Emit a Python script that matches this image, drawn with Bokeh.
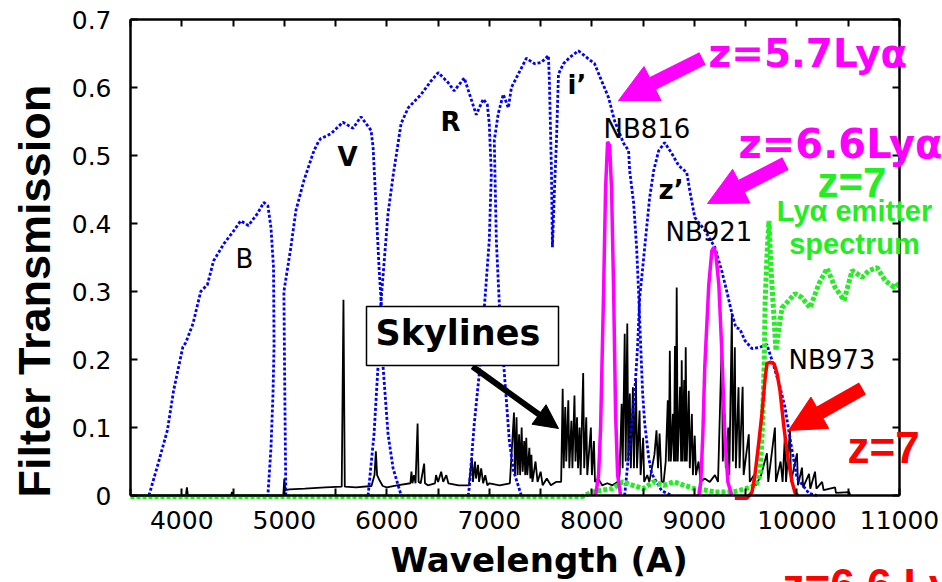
import math
from bokeh.plotting import figure
from bokeh.models import Range1d, FixedTicker, LinearAxis, Label, Arrow, NormalHead, BoxAnnotation
from bokeh.embed import file_html
from bokeh.resources import INLINE

# ---------------- data ----------------
b_wl = [3680, 3770, 3860, 3920, 4010, 4040, 4110, 4185, 4250, 4310, 4410, 4510, 4575, 4650, 4740, 4800, 4840, 4870, 4895, 4900, 4890, 4870, 4840]
b_t = [0, 0.047, 0.096, 0.154, 0.218, 0.225, 0.253, 0.30, 0.31, 0.345, 0.37, 0.39, 0.404, 0.397, 0.415, 0.431, 0.426, 0.394, 0.335, 0.22, 0.15, 0.07, 0]

v_wl = [5015, 5005, 4996, 5064, 5113, 5191, 5289, 5338, 5357, 5455, 5572, 5670, 5748, 5846, 5866, 5895, 5924, 5944, 5963, 6012, 6061, 6140]
v_t = [0, 0.15, 0.30, 0.365, 0.419, 0.463, 0.507, 0.522, 0.525, 0.532, 0.549, 0.54, 0.557, 0.537, 0.512, 0.424, 0.335, 0.287, 0.19, 0.09, 0.04, 0]

r_wl = [5817, 5875, 5914, 5944, 6012, 6061, 6139, 6208, 6335, 6433, 6501, 6599, 6657, 6755, 6872, 6941, 6980, 6999, 7019, 6999, 6951, 6902, 6853, 6804, 6794]
r_t = [0, 0.09, 0.19, 0.287, 0.415, 0.47, 0.547, 0.57, 0.59, 0.61, 0.622, 0.607, 0.595, 0.614, 0.56, 0.583, 0.575, 0.547, 0.473, 0.375, 0.277, 0.18, 0.106, 0.012, 0]

i_wl = [7312, 7234, 7195, 7146, 7097, 7068, 7048, 7087, 7136, 7185, 7215, 7283, 7361, 7439, 7508, 7576, 7586, 7606, 7615, 7635, 7654, 7674, 7723, 7782, 7869, 7967, 8026, 8094, 8163, 8221, 8309, 8358, 8368, 8407, 8436, 8456, 8476, 8495, 8515, 8554, 8583, 8681, 8779]
i_t = [0, 0.037, 0.08, 0.18, 0.282, 0.375, 0.522, 0.562, 0.59, 0.57, 0.6, 0.62, 0.643, 0.635, 0.637, 0.647, 0.606, 0.473, 0.365, 0.45, 0.52, 0.62, 0.635, 0.644, 0.654, 0.642, 0.635, 0.61, 0.585, 0.551, 0.518, 0.507, 0.478, 0.43, 0.365, 0.297, 0.22, 0.15, 0.106, 0.056, 0.032, 0.007, 0]

z_wl = [8319, 8339, 8368, 8417, 8446, 8466, 8515, 8563, 8603, 8651, 8710, 8779, 8847, 8925, 8954, 9003, 9101, 9199, 9267, 9316, 9365, 9404, 9443, 9492, 9561, 9639, 9707, 9756, 9825, 9883, 9952, 10000, 10118, 10196]
z_t = [0, 0.03, 0.076, 0.15, 0.22, 0.29, 0.365, 0.438, 0.478, 0.507, 0.519, 0.503, 0.485, 0.475, 0.449, 0.409, 0.39, 0.365, 0.33, 0.3, 0.268, 0.247, 0.245, 0.228, 0.216, 0.218, 0.222, 0.199, 0.165, 0.13, 0.066, 0.026, 0.003, 0]

nb816_wl = [8036, 8065, 8085, 8114, 8133, 8153, 8173, 8192, 8212, 8231, 8251, 8280]
nb816_t = [0, 0.03, 0.1, 0.3, 0.45, 0.52, 0.515, 0.45, 0.3, 0.12, 0.03, 0]

nb921_wl = [9043, 9062, 9082, 9101, 9140, 9170, 9189, 9209, 9238, 9267, 9296, 9326, 9365]
nb921_t = [0, 0.02, 0.09, 0.19, 0.31, 0.36, 0.365, 0.355, 0.31, 0.213, 0.09, 0.02, 0]

nb973_wl = [9394, 9512, 9561, 9590, 9629, 9658, 9688, 9707, 9736, 9776, 9805, 9834, 9873, 9912, 9952, 9981, 10010]
nb973_t = [-0.004, -0.004, 0.005, 0.03, 0.08, 0.12, 0.17, 0.194, 0.196, 0.194, 0.18, 0.155, 0.1, 0.055, 0.02, 0.004, 0]

lae_wl = [3500, 7900, 8000, 8100, 8200, 8300, 8400, 8500, 8600, 8700, 8800, 8900, 9000, 9100, 9200, 9300, 9400, 9500, 9600, 9640, 9660, 9680, 9690, 9710, 9727, 9746, 9776, 9795, 9825, 9854, 9922, 9981, 10049, 10128, 10216, 10294, 10372, 10460, 10538, 10636, 10704, 10782, 10861, 10949, 11000]
lae_t = [-0.002, -0.002, 0.005, 0.008, 0.01, 0.02, 0.015, 0.01, 0.02, 0.015, 0.02, 0.015, 0.01, 0.008, 0.005, 0.005, 0.006, 0.01, 0.015, 0.03, 0.09, 0.19, 0.287, 0.36, 0.404, 0.335, 0.262, 0.213, 0.247, 0.276, 0.287, 0.297, 0.291, 0.276, 0.312, 0.334, 0.306, 0.287, 0.331, 0.321, 0.331, 0.335, 0.316, 0.306, 0.312]

sky_wl = [3500, 4040, 4050, 4060, 4480, 4490, 4500, 4990, 5000, 5010, 5050, 5200, 5400, 5560, 5577, 5590, 5700, 5850, 5880, 5893, 5905, 5930, 5960, 6000, 6100,
          6230, 6240, 6250, 6265, 6280, 6300, 6310, 6330, 6364, 6372, 6400, 6470, 6480, 6500, 6530, 6550, 6580, 6600, 6700, 6800,
          6830, 6840, 6860, 6870, 6890, 6900, 6920, 6940, 6960, 6980, 7000, 7100, 7200,
          7240, 7250, 7265, 7275, 7290, 7300, 7315, 7325, 7340, 7350, 7360, 7370, 7390, 7400, 7410, 7420, 7450, 7470, 7500, 7520, 7560, 7600, 7650, 7700,
          7715, 7725, 7740, 7750, 7770, 7780, 7800, 7810, 7830, 7840, 7855, 7865, 7880, 7890, 7915, 7925, 7945, 7955, 7990, 8000, 8020, 8030, 8060,
          8100, 8150, 8200, 8250, 8270, 8290, 8300, 8320, 8330, 8345, 8355, 8370, 8380, 8400, 8410, 8430, 8440, 8465, 8475, 8500, 8510, 8540, 8560,
          8610, 8630, 8645, 8660, 8680, 8700, 8720, 8740, 8750, 8760, 8770, 8790, 8800, 8810, 8818, 8827, 8837, 8860, 8870, 8876, 8885, 8900, 8907, 8915, 8925,
          8945, 8955, 8975, 8985, 9003, 9015, 9040, 9060, 9100, 9150, 9200, 9230,
          9267, 9277, 9296, 9306, 9330, 9340, 9365, 9375, 9394, 9404, 9430, 9440, 9470, 9480, 9530, 9540, 9580, 9600, 9650,
          9707, 9720, 9785, 9795, 9840, 9860, 9883, 9893, 9932, 9942, 10000, 10010, 10049, 10060, 10118, 10130, 10176, 10190, 10245, 10260, 10372, 10380, 10509, 10520]
sky_t = [0, 0, 0.012, 0, 0, 0.005, 0, 0, 0.025, 0.008, 0.009, 0.010, 0.012, 0.013, 0.288, 0.013, 0.012, 0.014, 0.03, 0.065, 0.03, 0.022, 0.014, 0.012, 0.015,
         0.018, 0.035, 0.018, 0.03, 0.018, 0.106, 0.02, 0.018, 0.047, 0.018, 0.015, 0.018, 0.03, 0.02, 0.035, 0.02, 0.03, 0.018, 0.015, 0.015,
         0.056, 0.02, 0.05, 0.025, 0.045, 0.02, 0.04, 0.018, 0.03, 0.015, 0.018, 0.015, 0.018,
         0.122, 0.03, 0.115, 0.03, 0.09, 0.03, 0.1, 0.035, 0.08, 0.03, 0.085, 0.03, 0.07, 0.025, 0.06, 0.02, 0.05, 0.02, 0.035, 0.015, 0.025, 0.015, 0.02, 0.02,
         0.157, 0.04, 0.13, 0.05, 0.14, 0.04, 0.11, 0.04, 0.147, 0.05, 0.115, 0.04, 0.1, 0.03, 0.18, 0.04, 0.115, 0.03, 0.1, 0.03, 0.08, 0.02, 0.025,
         0.015, 0.018, 0.015, 0.02, 0.03, 0.135, 0.04, 0.238, 0.05, 0.253, 0.05, 0.15, 0.04, 0.159, 0.04, 0.169, 0.04, 0.125, 0.03, 0.085, 0.02, 0.03, 0.02,
         0.06, 0.096, 0.04, 0.091, 0.02, 0.02, 0.05, 0.14, 0.05, 0.213, 0.05, 0.12, 0.05, 0.22, 0.05, 0.306, 0.05, 0.16, 0.05, 0.199, 0.05, 0.17, 0.05, 0.218, 0.05,
         0.154, 0.04, 0.12, 0.03, 0.088, 0.03, 0.05, 0.02, 0.025, 0.02, 0.03, 0.02,
         0.228, 0.05, 0.12, 0.04, 0.1, 0.03, 0.268, 0.05, 0.218, 0.04, 0.159, 0.04, 0.16, 0.03, 0.09, 0.02, 0.03, 0.015, 0.03,
         0.062, 0.02, 0.1, 0.02, 0.05, 0.02, 0.09, 0.02, 0.096, 0.02, 0.062, 0.015, 0.041, 0.012, 0.032, 0.01, 0.035, 0.01, 0.02, 0.008, 0.012, 0.004, 0.005, 0]

x_ticks = [4000, 5000, 6000, 7000, 8000, 9000, 10000, 11000]
x_minor = [3500, 4500, 5500, 6500, 7500, 8500, 9500, 10500]
y_ticks = [0, 0.1, 0.2, 0.3, 0.4, 0.5, 0.6, 0.7]

# ---------------- layout ----------------
# The frame covers the whole canvas; the plot box (3500-11000 x 0-0.7) sits at
# pixels 130..899 x 19..495, and the axes are drawn at fixed data locations.
W, H = 942, 582
PL, PR, PT, PB = 130, 899, 19, 495
X0, X1, Y0, Y1 = 3500, 11000, 0.0, 0.7
KX = (X1 - X0) / (PR - PL)
KY = (Y1 - Y0) / (PB - PT)


def dx(px):
    return X0 + (px - PL) * KX


def dy(py):
    return Y0 + (PB - py) * KY


p = figure(width=W, height=H, x_range=Range1d(dx(0), dx(W)), y_range=Range1d(dy(H), dy(0)),
           output_backend="svg", toolbar_location=None,
           min_border=0, min_border_left=0, min_border_right=0, min_border_top=0, min_border_bottom=0)
p.background_fill_color = "white"
p.border_fill_color = "white"
p.grid.visible = False
p.outline_line_color = None


def style_axis(ax, labels=True, standoff=16):
    ax.axis_line_width = 2.5
    ax.major_tick_in = 7
    ax.major_tick_out = 0
    ax.minor_tick_in = 7
    ax.minor_tick_out = 0
    ax.major_tick_line_width = 2
    ax.minor_tick_line_width = 2
    if labels:
        ax.major_label_text_font = "DejaVu Sans"
        ax.major_label_text_font_size = "25px"
        ax.major_label_text_color = "black"
        ax.major_label_standoff = standoff
    else:
        ax.major_label_text_alpha = 0
        ax.major_label_text_color = None
        ax.major_label_standoff = 0


p.xaxis.ticker = FixedTicker(ticks=x_ticks, minor_ticks=x_minor)
p.xaxis.fixed_location = Y0
p.xaxis.bounds = (X0, X1)
p.yaxis.ticker = FixedTicker(ticks=y_ticks)
p.yaxis.fixed_location = X0
p.yaxis.bounds = (Y0, Y1)
p.yaxis.major_label_overrides = {0: "0"}
style_axis(p.xaxis[0], True, 15)
style_axis(p.yaxis[0], True, 19)

top = LinearAxis(ticker=FixedTicker(ticks=x_ticks, minor_ticks=x_minor), fixed_location=Y1, bounds=(X0, X1))
style_axis(top, False)
p.add_layout(top, "above")
right = LinearAxis(ticker=FixedTicker(ticks=y_ticks), fixed_location=X1, bounds=(Y0, Y1))
style_axis(right, False)
p.add_layout(right, "right")

# ---------------- curves ----------------
p.line(sky_wl, sky_t, line_color="black", line_width=1.8)
blue = "#0000FF"
for wl, t in [(b_wl, b_t), (v_wl, v_t), (r_wl, r_t), (i_wl, i_t), (z_wl, z_t)]:
    p.line(wl, t, line_color=blue, line_width=2.8, line_dash="3 2")
p.line(lae_wl, lae_t, line_color="#22EE22", line_width=5, line_dash="4 2")
p.line(nb816_wl, nb816_t, line_color="#FF00FF", line_width=3.5)
p.line(nb921_wl, nb921_t, line_color="#FF00FF", line_width=3.5)
p.line(nb973_wl, nb973_t, line_color="#FF0000", line_width=3.5)

# ---------------- annotations ----------------
MAG, GRN, RED = "#FF00FF", "#22EE22", "#FF0000"


def arrow(x0, y0, x1, y1, color, lw, size):
    p.add_layout(Arrow(x_start=dx(x0), y_start=dy(y0), x_end=dx(x1), y_end=dy(y1),
                       line_color=color, line_width=lw,
                       end=NormalHead(size=size, fill_color=color, line_color=color, line_width=1)))


def label(text, px, py, font, size, color="black", bold=False, align="left", angle=0.0):
    # (px, py): left/centre edge and the vertical middle of the capitals
    p.add_layout(Label(x=dx(px), y=dy(py), text=text, text_font=font, text_font_size=f"{size}px",
                       text_color=color, text_font_style="bold" if bold else "normal",
                       text_align=align, text_baseline="middle", angle=angle))


arrow(702, 58, 618, 100, MAG, 14, 38)
arrow(785, 163, 707, 203, MAG, 14, 38)
arrow(862, 388, 788, 430, RED, 14, 36)
arrow(472, 366, 558, 428, "black", 6, 24)

p.add_layout(BoxAnnotation(left=dx(366), right=dx(558), top=dy(306), bottom=dy(365),
                           fill_color="white", fill_alpha=1.0, line_color="black", line_alpha=1.0, line_width=1.5))
label("Skylines", 375, 332, "DejaVu Sans", 35, bold=True)

label("B", 235, 258, "DejaVu Sans", 26)
label("V", 337, 156, "DejaVu Sans", 26, bold=True)
label("R", 440, 121, "DejaVu Sans", 26, bold=True)
label("i\u2019", 567, 84, "DejaVu Sans", 26, bold=True)
label("z\u2019", 658, 189, "DejaVu Sans", 26, bold=True)
label("NB816", 603, 128, "DejaVu Sans", 26)
label("NB921", 665, 231, "DejaVu Sans", 26)
label("NB973", 788, 359, "DejaVu Sans", 26)

label("z=5.7Ly\u03b1", 708, 53, "DejaVu Sans", 39, MAG, bold=True)
label("z=6.6Ly\u03b1", 738, 143, "DejaVu Sans", 40, MAG, bold=True)
label("z=7", 817, 182, "Liberation Sans", 42, GRN, bold=True)
label("Ly\u03b1 emitter", 854, 210, "Liberation Sans", 29, GRN, bold=True, align="center")
label("spectrum", 854, 243, "Liberation Sans", 29, GRN, bold=True, align="center")
label("z=7", 847, 447, "Liberation Sans", 44, RED, bold=True)
label("z=6.6 Ly\u03b1", 782, 584, "Liberation Sans", 44, RED, bold=True)

label("Wavelength (A)", 390, 559, "DejaVu Sans", 34, bold=True)
label("Filter Transmission", 34, 497, "Liberation Sans", 45, bold=True, angle=math.pi / 2)

open("out.html", "w").write(file_html(p, INLINE))
